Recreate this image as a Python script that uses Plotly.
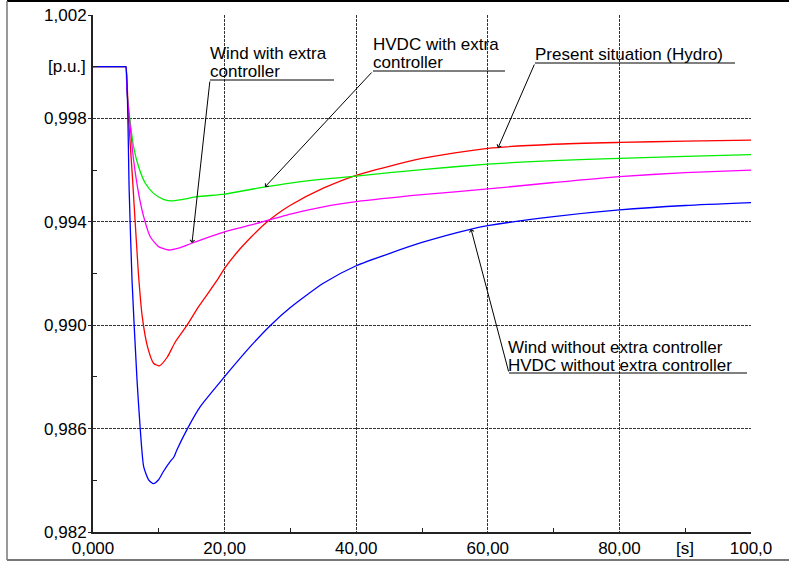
import plotly.graph_objects as go

# ---------------- data ----------------
t_hydro = [0, 4.9, 5, 5.4, 6.0, 6.9, 7.5, 8.3, 9.2, 10.1, 11.3, 12.5, 14.3, 16.0, 18.9, 20, 22, 24, 26, 28, 30, 35, 40, 50, 60, 70, 80, 90, 100]
v_hydro = [1.0, 1.0, 1.0, 0.998, 0.9957, 0.9920, 0.9903, 0.98915, 0.98853, 0.98843, 0.98877, 0.98935, 0.9900, 0.9907, 0.99175, 0.9922, 0.99285, 0.99340, 0.99390, 0.99430, 0.99464, 0.9953, 0.99580, 0.99645, 0.99684, 0.99700, 0.99707, 0.99712, 0.99716]

t_hvdc_ec = [0, 4.9, 5, 5.15, 5.56, 6.17, 6.93, 7.95, 9.2, 10.7, 11.75, 13.5, 15.8, 20, 23.9, 26.2, 30, 35, 40, 50, 60, 70, 80, 90, 100]
v_hvdc_ec = [1.0, 1.0, 1.0, 0.99909, 0.99806, 0.99690, 0.99613, 0.99549, 0.9951, 0.99487, 0.99481, 0.99486, 0.99497, 0.99507, 0.99525, 0.99535, 0.99550, 0.99565, 0.99577, 0.99602, 0.99623, 0.99637, 0.99645, 0.99653, 0.99660]

t_wind_ec = [0, 4.9, 5, 5.15, 5.56, 6.17, 6.93, 7.7, 8.7, 9.97, 11.5, 13.0, 15.0, 20, 23.9, 30, 35, 40, 50, 60, 70, 80, 90, 100]
v_wind_ec = [1.0, 1.0, 1.0, 0.99909, 0.99793, 0.99639, 0.9951, 0.9942, 0.99342, 0.99304, 0.99291, 0.99298, 0.99317, 0.99361, 0.99387, 0.99430, 0.99458, 0.99478, 0.99505, 0.99527, 0.99552, 0.99575, 0.99590, 0.99600]

t_no_ec = [0, 4.9, 5, 5.5, 5.93, 6.69, 7.19, 7.7, 8.45, 9.2, 9.97, 10.7, 11.75, 12.3, 12.76, 14.4, 16.3, 20, 23.9, 27, 30, 35, 40, 50, 57.5, 60, 70, 80, 90, 100]
v_no_ec = [1.0, 1.0, 1.0, 0.9952, 0.99175, 0.98788, 0.98595, 0.98453, 0.98402, 0.98387, 0.98402, 0.98434, 0.98473, 0.98490, 0.98518, 0.98602, 0.98685, 0.98801, 0.98917, 0.99000, 0.99068, 0.99162, 0.99230, 0.99320, 0.99372, 0.99385, 0.99420, 0.99446, 0.99463, 0.99474]

y_ticks = [0.982, 0.986, 0.990, 0.994, 0.998, 1.002]
y_ticktext = ["0,982", "0,986", "0,990", "0,994", "0,998", "1,002"]
x_ticks = [0, 20, 40, 60, 80, 100]
x_ticktext = ["0,000", "20,00", "40,00", "60,00", "80,00", "100,0"]

labels = {
    "wind_ec": ["Wind with extra", "controller"],
    "hvdc_ec": ["HVDC with extra", "controller"],
    "hydro": ["Present situation (Hydro)"],
    "no_ec": ["Wind without extra controller", "HVDC without extra controller"],
}

# ---------------- layout geometry helpers ----------------
L, R, T, B = 93, 38, 15, 31
W, H = 789, 563
PW, PH = W - L - R, H - T - B
XR = (0, 100)
YR = (0.982, 1.002)

def px2x(px):
    return XR[0] + (px - L) / PW * (XR[1] - XR[0])

def py2y(py):
    return YR[1] - (py - T) / PH * (YR[1] - YR[0])

FONT = "Liberation Sans, Arial, sans-serif"
FS = 17

fig = go.Figure()
for t, v, c in [(t_hydro, v_hydro, "#ff0000"), (t_hvdc_ec, v_hvdc_ec, "#00ee00"),
                (t_wind_ec, v_wind_ec, "#ff00ff"), (t_no_ec, v_no_ec, "#0000ff")]:
    fig.add_trace(go.Scatter(x=t, y=v, mode="lines",
                             line=dict(color=c, width=1.3, shape="spline", smoothing=0.6),
                             showlegend=False, hoverinfo="skip"))

annos = []
shapes = []

def leader(tip_px, tail_px, end_px, lines, text_left_px, centers_py):
    tx, ty = px2x(tip_px[0]), py2y(tip_px[1])
    ax, ay = px2x(tail_px[0]), py2y(tail_px[1])
    annos.append(dict(x=tx, y=ty, ax=ax, ay=ay, xref="x", yref="y", axref="x", ayref="y",
                      text="", showarrow=True, arrowhead=4, arrowsize=0.9, arrowwidth=1,
                      arrowcolor="#000"))
    shapes.append(dict(type="line", xref="x", yref="y", x0=ax, y0=ay,
                       x1=px2x(end_px), y1=ay, line=dict(color="#000", width=1)))
    for s, cy in zip(lines, centers_py):
        annos.append(dict(x=px2x(text_left_px), y=py2y(cy), xref="x", yref="y",
                          text=s, showarrow=False, xanchor="left", yanchor="middle",
                          borderpad=0,
                          font=dict(family=FONT, size=FS, color="#000")))

leader((192, 243), (210, 80), 334, labels["wind_ec"], 209, [53, 71])
leader((265, 187), (373, 71), 505, labels["hvdc_ec"], 372, [44, 62])
leader((498, 148), (535, 63), 735, labels["hydro"], 534, [54])
leader((471, 229), (509, 373), 747, labels["no_ec"], 507, [347, 365])

# unit labels
annos.append(dict(x=90, y=0, xref="x", yref="paper", text="[s]", showarrow=False,
                  xanchor="center", yanchor="top", yshift=-5,
                  font=dict(family=FONT, size=FS, color="#000")))
annos.append(dict(x=0, y=1.0, xref="paper", yref="y", text="[p.u.]", showarrow=False,
                  xanchor="right", yanchor="middle", xshift=-5,
                  font=dict(family=FONT, size=FS, color="#000")))

# outer frame
fx0 = (7 - L) / PW
fx1 = (W + 20 - L) / PW
fy_top = 1 + (T - 1) / PH
fy_bot = -(560 - (T + PH)) / PH
shapes += [
    dict(type="line", xref="paper", yref="paper", x0=fx0, x1=fx1, y0=fy_top, y1=fy_top,
         line=dict(color="#000", width=2)),
    dict(type="line", xref="paper", yref="paper", x0=fx0, x1=fx1, y0=fy_bot, y1=fy_bot,
         line=dict(color="#777", width=2)),
    dict(type="line", xref="paper", yref="paper", x0=fx0, x1=fx0, y0=fy_bot, y1=fy_top,
         line=dict(color="#777", width=1.5)),
]

fig.update_layout(
    width=W, height=H, margin=dict(l=L, r=R, t=T, b=B, autoexpand=False),
    paper_bgcolor="white", plot_bgcolor="white",
    font=dict(family=FONT, size=FS, color="#000"),
    annotations=annos, shapes=shapes, showlegend=False,
)
fig.update_xaxes(range=list(XR), tickvals=x_ticks, ticktext=x_ticktext, automargin=False,
                 showgrid=True, gridcolor="#333", griddash="3px,1px", gridwidth=1,
                 showline=True, linecolor="#222", linewidth=2, ticks="", ticklabelstandoff=0,
                 zeroline=False,
                 minor=dict(tickvals=[10, 30, 50, 70, 90], ticks="inside", ticklen=4,
                            tickcolor="#222", showgrid=False))
fig.update_yaxes(range=list(YR), tickvals=y_ticks, ticktext=y_ticktext, automargin=False,
                 showgrid=True, gridcolor="#333", griddash="3px,1px", gridwidth=1,
                 showline=True, linecolor="#222", linewidth=2, ticks="outside", ticklen=3,
                 tickcolor="#222", ticklabelstandoff=-2, zeroline=False,
                 minor=dict(tickvals=[0.984, 0.988, 0.992, 0.996, 1.000], ticks="inside",
                            ticklen=4, tickcolor="#222", showgrid=False))

fig.write_html("out.html")
